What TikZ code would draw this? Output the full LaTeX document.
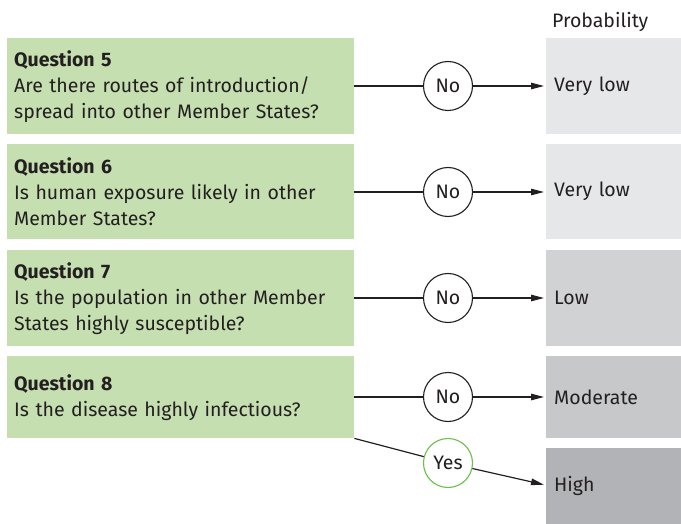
\documentclass[tikz,border=0pt]{standalone}
\usepackage{fontspec}
\setmainfont{Fira Sans}
\usetikzlibrary{arrows.meta}
\definecolor{qgreen}{HTML}{C5DFB0}
\definecolor{pvlow}{HTML}{E6E7E8}
\definecolor{plow}{HTML}{D1D2D4}
\definecolor{pmod}{HTML}{C7C8CA}
\definecolor{phigh}{HTML}{B1B3B6}
\definecolor{ink}{HTML}{231F20}
\definecolor{yesgreen}{HTML}{6CC04A}
\begin{document}
\begin{tikzpicture}[x=1pt,y=-1pt,
  every node/.style={text=ink, font=\fontsize{19.5}{26}\selectfont},
  qbox/.style={fill=qgreen, anchor=north west, minimum width=347pt, text width=333pt, inner xsep=7pt, inner ysep=0pt, align=left},
  pbox/.style={anchor=north west, minimum width=135pt, text width=119pt, inner xsep=8pt, inner ysep=0pt, align=left},
  ans/.style={circle, draw=ink, line width=1.1pt, fill=white, minimum size=49pt, inner sep=0pt},
  conn/.style={draw=ink, line width=1.2pt},
  arr/.style={conn, -{Triangle[length=13pt,width=6.5pt]}}
]
\useasboundingbox (0,0) rectangle (681,524);
\node[anchor=base west, inner sep=0pt] (ptitle) at (552,28) {Probability};
% question boxes
\node[qbox, minimum height=96pt] (q5) at (7,38) {\textbf{Question 5}\\Are there routes of introduction/\\spread into other Member States?};
\node[qbox, minimum height=95pt] (q6) at (7,144) {\textbf{Question 6}\\Is human exposure likely in other\\Member States?};
\node[qbox, minimum height=96pt] (q7) at (7,250) {\textbf{Question 7}\\Is the population in other Member\\States highly susceptible?};
\node[qbox, minimum height=82pt] (q8) at (7,356) {\textbf{Question 8}\\Is the disease highly infectious?};
% probability boxes
\node[pbox, fill=pvlow, minimum height=96pt] (p5) at (546,38) {Very low};
\node[pbox, fill=pvlow, minimum height=95pt] (p6) at (546,144) {Very low};
\node[pbox, fill=plow, minimum height=96pt] (p7) at (546,250) {Low};
\node[pbox, fill=pmod, minimum height=82pt] (p8) at (546,356) {Moderate};
\node[pbox, fill=phigh, minimum height=76pt] (ph) at (546,448) {High};
% answer circles
\node[ans] (n5) at (448,86) {No};
\node[ans] (n6) at (448,192) {No};
\node[ans] (n7) at (448,298) {No};
\node[ans] (n8) at (448,397) {No};
\node[ans, draw=yesgreen] (y8) at (448,463) {Yes};
% connectors
\foreach \i in {5,6,7,8}{
  \draw[conn] (q\i.east |- n\i) -- (n\i.west);
  \draw[arr] (n\i.east) -- ([xshift=-2pt]p\i.west |- n\i);
}
\draw[conn] (q8.south east) -- (y8);
\draw[arr] (y8) -- ([xshift=-2pt,yshift=1.5pt]ph.west);
\end{tikzpicture}
\end{document}
